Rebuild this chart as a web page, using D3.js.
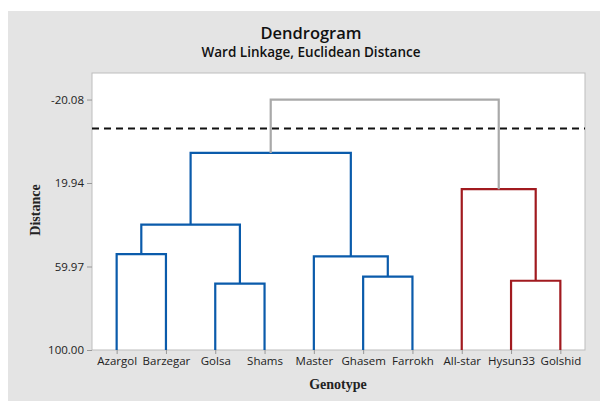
<!DOCTYPE html>
<html>
<head>
<meta charset="utf-8">
<script src="https://cdn.jsdelivr.net/npm/d3@7"></script>
<style>
  body { margin: 0; background: #fff; }
  svg { display: block; }
</style>
</head>
<body>
<svg id="chart" width="600" height="401"></svg>
<script>
// leaves in drawing order
const leaves = ["Azargol", "Barzegar", "Golsa", "Shams", "Master", "Ghasem", "Farrokh", "All-star", "Hysun33", "Golshid"];

// merges: [left, right, level, cluster]  (left/right = leaf name or merge id)
const merges = [
  ["Azargol", "Barzegar", 54.0, "blue"],      // m0
  ["Golsa", "Shams", 68.2, "blue"],           // m1
  ["m0", "m1", 39.9, "blue"],                 // m2
  ["Ghasem", "Farrokh", 64.8, "blue"],        // m3
  ["Master", "m3", 55.1, "blue"],             // m4
  ["m2", "m4", 5.5, "blue"],                  // m5
  ["Hysun33", "Golshid", 66.8, "red"],        // m6
  ["All-star", "m6", 22.9, "red"],            // m7
  ["m5", "m7", -20.08, "gray"]                // m8
];

const yTicks = [-20.08, 19.94, 59.97, 100.00];
const cutLevel = -6.2;

const colors = { blue: "#0a5bab", red: "#a11a1f", gray: "#a9a9a9" };

const svg = d3.select("#chart");
const W = 600, H = 401;
const margin = { left: 92, right: 15, top: 73, bottom: 51 };
const font = "Open Sans, Noto Sans, sans-serif";

// outer panel
svg.append("rect").attr("x", 8).attr("y", 11).attr("width", W - 8).attr("height", H - 11)
  .attr("fill", "#e4e4e4");

// plot area
svg.append("rect").attr("x", margin.left).attr("y", margin.top)
  .attr("width", W - margin.left - margin.right).attr("height", H - margin.top - margin.bottom)
  .attr("fill", "#fff").attr("stroke", "#bdbdbd").attr("stroke-width", 1);

const x = d3.scalePoint().domain(leaves)
  .range([margin.left, W - margin.right]).padding(0.5);
const y = d3.scaleLinear().domain([100, -32.8])
  .range([H - margin.bottom, margin.top]);

// titles
svg.append("text").attr("x", 311).attr("y", 39).attr("text-anchor", "middle")
  .style("font-family", font).style("font-size", "16.5px").style("font-weight", 600)
  .attr("fill", "#111").text("Dendrogram");
svg.append("text").attr("x", 311).attr("y", 57).attr("text-anchor", "middle")
  .style("font-family", font).style("font-size", "13.5px").style("font-weight", 600)
  .attr("fill", "#111").text("Ward Linkage, Euclidean Distance");

// y axis
const yAxis = svg.append("g").attr("transform", `translate(${margin.left},0)`)
  .call(d3.axisLeft(y).tickValues(yTicks).tickFormat(d => d.toFixed(2)).tickSize(5).tickPadding(3));
yAxis.select(".domain").remove();
yAxis.selectAll(".tick line").attr("stroke", "#999");
yAxis.selectAll(".tick text").style("font-family", font)
  .style("font-size", "11.5px").attr("fill", "#222");

// x axis
const xAxis = svg.append("g").attr("transform", `translate(0,${H - margin.bottom})`)
  .call(d3.axisBottom(x).tickSize(4).tickPadding(3));
xAxis.select(".domain").remove();
xAxis.selectAll(".tick line").attr("stroke", "#999");
xAxis.selectAll(".tick text").style("font-family", font)
  .style("font-size", "11.5px").attr("fill", "#222");

// axis titles
svg.append("text").attr("x", 338).attr("y", 389).attr("text-anchor", "middle")
  .style("font-family", "Liberation Serif, serif").style("font-size", "14px").style("font-weight", "bold")
  .attr("fill", "#222").text("Genotype");
svg.append("text").attr("transform", "translate(40,210) rotate(-90)").attr("text-anchor", "middle")
  .style("font-family", "Liberation Serif, serif").style("font-size", "14px").style("font-weight", "bold")
  .attr("fill", "#222").text("Distance");

// build node positions
const nodes = {};
leaves.forEach(l => { nodes[l] = { x: x(l), level: 100 }; });

const g = svg.append("g");
merges.forEach((m, i) => {
  const a = nodes[m[0]], b = nodes[m[1]];
  const lvl = m[2];
  const c = colors[m[3]];
  const path = d3.path();
  path.moveTo(a.x, y(a.level));
  path.lineTo(a.x, y(lvl));
  path.lineTo(b.x, y(lvl));
  path.lineTo(b.x, y(b.level));
  g.append("path").attr("d", path.toString()).attr("fill", "none")
    .attr("stroke", c).attr("stroke-width", 2.2);
  nodes["m" + i] = { x: (a.x + b.x) / 2, level: lvl };
});

// cut line
svg.append("line").attr("x1", margin.left).attr("x2", W - margin.right)
  .attr("y1", y(cutLevel)).attr("y2", y(cutLevel))
  .attr("stroke", "#111").attr("stroke-width", 2).attr("stroke-dasharray", "7,5");
</script>
</body>
</html>
